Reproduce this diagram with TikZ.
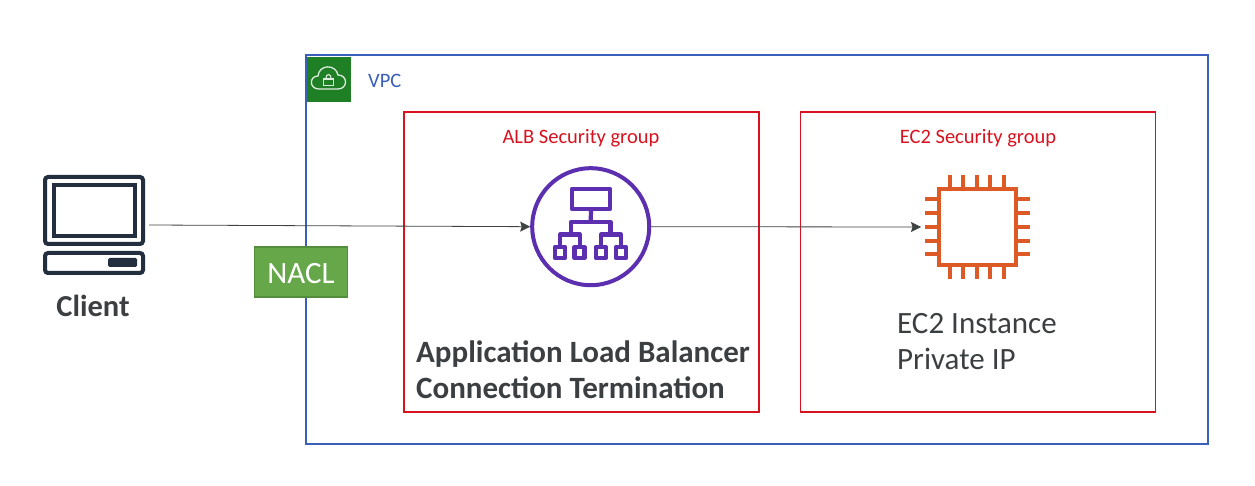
\documentclass[tikz,border=0pt]{standalone}
\usepackage{fontspec}
\setmainfont{Carlito}
\usetikzlibrary{arrows.meta}
\definecolor{vpcblue}{HTML}{3A5FBB}
\definecolor{sgred}{HTML}{D8121F}
\definecolor{vpcgreen}{HTML}{1F7F25}
\definecolor{naclfill}{HTML}{66A74A}
\definecolor{nacledge}{HTML}{548E3B}
\definecolor{albpurple}{HTML}{5B2FB0}
\definecolor{chiporange}{HTML}{DD5A26}
\definecolor{clientdark}{HTML}{232F3E}
\definecolor{textdark}{HTML}{3C3F41}
\definecolor{linedark}{HTML}{3F4443}
\tikzset{
  x=1pt,y=-1pt,
  boxn/.style={draw,minimum width=0,inner sep=0,outer sep=0,anchor=north west},
  sgbox/.style={boxn,draw=sgred,line width=1.5pt,minimum width=355pt,minimum height=300pt},
  sglabel/.style={text=sgred,font=\fontsize{20.5}{24}\selectfont,inner sep=0},
  bigbold/.style={text=textdark,font=\fontsize{31}{35.7}\bfseries\selectfont,inner sep=0,align=left,anchor=north west},
  regular/.style={text=textdark,font=\fontsize{31}{35.7}\selectfont,inner sep=0,align=left,anchor=north west},
  flow/.style={linedark,line width=0.8pt,-{Stealth[length=10pt,width=10pt,inset=1.5pt]}},
  clientline/.style={clientdark,line width=4pt,rounded corners=3pt},
  albline/.style={albpurple,line width=4.2pt,line join=round},
  pin/.style={chiporange,line width=4pt},
}
\begin{document}
\begin{tikzpicture}
\useasboundingbox (0,0) rectangle (1255,486);
\fill[white] (0,0) rectangle (1255,486);
% VPC
\node[boxn,draw=vpcblue,line width=1.8pt,minimum width=902pt,minimum height=389pt] (vpc) at (306.3,55) {};
\node[boxn,draw=none,fill=vpcgreen,minimum width=44pt,minimum height=45pt] (vpcicon) at (306.5,57) {};
\node[text=vpcblue,font=\fontsize{20.5}{24}\selectfont,inner sep=0,anchor=west] (vpclabel) at (368,80.5) {VPC};
% cloud and lock
\draw[white!85!vpcgreen,line width=1.3pt,line join=round]
  (319,89) .. controls (309,89) and (309,76) .. (318,76) .. controls (319,64) and (336,64) .. (338,75)
  .. controls (348,75) and (348,89) .. (338,89) -- cycle;
\draw[white!85!vpcgreen,line width=1.2pt] (323.5,79) rectangle (333.5,85.5);
\draw[white!85!vpcgreen,line width=1.1pt] (325.8,79) .. controls (325.8,73) and (331.2,73) .. (331.2,79);
% security groups
\node[sgbox] (albsg) at (404,112) {};
\node[sgbox] (ec2sg) at (800.5,112) {};
\node[sglabel] (albsgl) at (581,138) {ALB Security group};
\node[sglabel] (ec2sgl) at (978,138) {EC2 Security group};
% client
\node[boxn,clientline,minimum width=98pt,minimum height=67pt] (monitor) at (45,177) {};
\node[boxn,draw=clientdark,line width=4pt,minimum width=81pt,minimum height=51pt] (screen) at (54,185) {};
\node[boxn,clientline,minimum width=98pt,minimum height=20pt] (base) at (45,253) {};
\node[boxn,draw=none,fill=clientdark,rounded corners=1.5pt,minimum width=29pt,minimum height=9pt] (button) at (108,258) {};
\node[text=textdark,font=\fontsize{30.5}{36}\bfseries\selectfont,inner sep=0] (client) at (93,306) {Client};
% ALB icon
\node[draw=albpurple,line width=4pt,circle,minimum size=117pt,inner sep=0,outer sep=2pt] (alb) at (590.7,226.7) {};
\node[boxn,albline,minimum width=38pt,minimum height=20.5pt] (albtop) at (572,188.7) {};
\draw[albline] (albtop.south) -- (590.7,222);
\draw[albline] (571,234) -- (571,222) -- (610.5,222) -- (610.5,234);
\draw[albline] (560,245) -- (560,234.5) -- (580,234.5) -- (580,245);
\draw[albline] (601,245) -- (601,234.5) -- (621,234.5) -- (621,245);
\node[boxn,albline,minimum width=10pt,minimum height=11pt] (l1) at (555,247) {};
\node[boxn,albline,minimum width=10pt,minimum height=11pt] (l2) at (574.5,247) {};
\node[boxn,albline,minimum width=10pt,minimum height=11pt] (l3) at (595.7,247) {};
\node[boxn,albline,minimum width=10pt,minimum height=11pt] (l4) at (616,247) {};
% EC2 chip
\node[boxn,draw=chiporange,line width=4pt,minimum width=76.7pt,minimum height=76pt] (chip) at (939,188.7) {};
\foreach \px in {949.5,963,976.7,990.3,1004}{
  \draw[pin] (\px,174.6) -- (\px,187);
  \draw[pin] (\px,267) -- (\px,279.4);
}
\foreach \py in {199.4,213,227,240.6,254.2}{
  \draw[pin] (925,\py) -- (937,\py);
  \draw[pin] (1018,\py) -- (1030,\py);
}
% texts
\node[bigbold] (albtext) at (416,341) {Application Load Balancer\\Connection Termination};
\node[regular] (ec2text) at (897,313) {EC2 Instance\\Private IP};
% connectors
\coordinate (clientout) at (149,225);
\coordinate (chipin) at (921,227);
\draw[flow] (clientout) -- (alb.west);
\draw[flow] (alb.east) -- (chipin);
% NACL
\node[boxn,fill=naclfill,draw=nacledge,line width=1.2pt,minimum width=93pt,minimum height=50pt] (nacl) at (254.5,247) {};
\node[text=white,font=\fontsize{31}{36}\selectfont,inner sep=0] (nacll) at (301,273.5) {NACL};
\end{tikzpicture}
\end{document}
